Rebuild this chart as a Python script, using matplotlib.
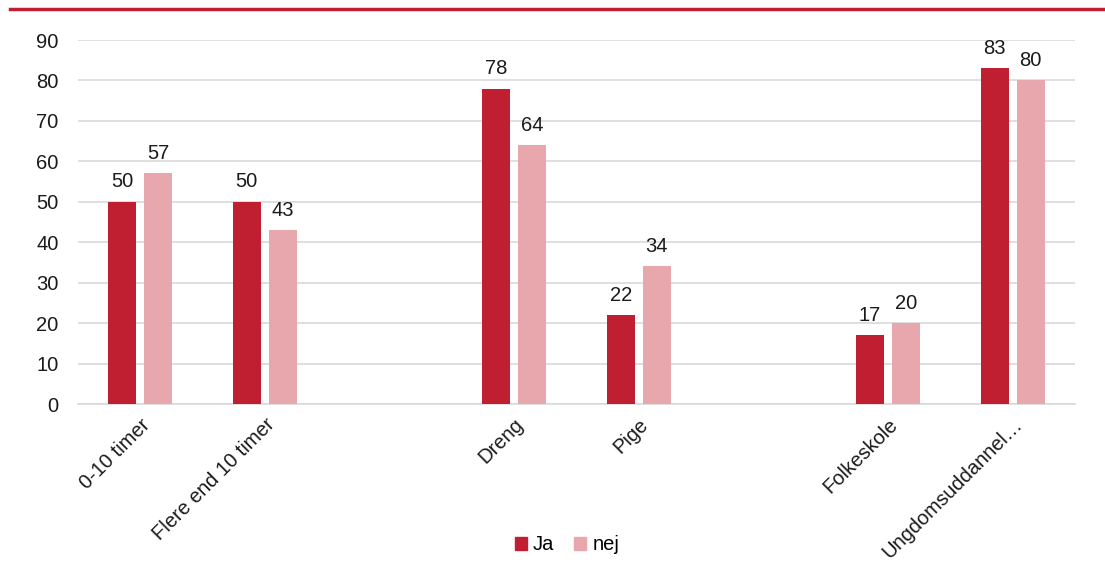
import matplotlib
matplotlib.use("Agg")
import matplotlib.pyplot as plt
from matplotlib.lines import Line2D
import numpy as np

plt.rcParams['font.family'] = ['Liberation Sans', 'DejaVu Sans']

categories = ["0-10 timer", "Flere end 10 timer", "", "Dreng", "Pige", "", "Folkeskole", "Ungdomsuddannel…"]
ja = [50, 50, None, 78, 22, None, 17, 83]
nej = [57, 43, None, 64, 34, None, 20, 80]
series_names = ["Ja", "nej"]
yticks = [0, 10, 20, 30, 40, 50, 60, 70, 80, 90]

c_ja = "#C01F32"
c_nej = "#E8A6AD"
fs = 14.5

fig = plt.figure(figsize=(11.05, 5.76), dpi=100)
ax = fig.add_axes([78/1105, 1-404/576, (1075-78)/1105, (404-40)/576])

x = np.arange(len(categories))
w = 0.225
off = 0.145
for i in x:
    if ja[i] is not None:
        ax.bar(i - off, ja[i], width=w, color=c_ja, zorder=3)
        ax.text(i - off, ja[i] + 2.6, str(ja[i]), ha='center', va='bottom', fontsize=fs, color='#1a1a1a')
    if nej[i] is not None:
        ax.bar(i + off, nej[i], width=w, color=c_nej, zorder=3)
        ax.text(i + off, nej[i] + 2.6, str(nej[i]), ha='center', va='bottom', fontsize=fs, color='#1a1a1a')

ax.set_xlim(-0.5, len(categories) - 0.5)
ax.set_ylim(0, 90)
ax.set_yticks(yticks)
ax.set_yticklabels([str(t) for t in yticks], fontsize=fs, color='#1a1a1a')
ax.yaxis.grid(True, color='#D9D9D9', linewidth=1.2, zorder=0)
ax.set_axisbelow(True)
ax.set_xticks(x)
ax.set_xticklabels(categories, rotation=45, ha='right', rotation_mode='anchor', fontsize=fs, color='#1a1a1a')
ax.tick_params(axis='y', length=0, pad=14)
ax.tick_params(axis='x', length=0, pad=8)
for s in ['top', 'right', 'left']:
    ax.spines[s].set_visible(False)
ax.spines['bottom'].set_color('#D9D9D9')
ax.spines['bottom'].set_linewidth(1.2)

handles = [plt.Rectangle((0, 0), 1, 1, color=c_ja), plt.Rectangle((0, 0), 1, 1, color=c_nej)]
fig.legend(handles, series_names, loc='center', bbox_to_anchor=(567/1105, 1-545/576), ncol=2,
           frameon=False, fontsize=fs, handlelength=0.6, handleheight=0.6, handletextpad=0.3, columnspacing=1.0)

# top red rule
fig.add_artist(Line2D([10/1105, 1.0], [1-8.5/576, 1-8.5/576], color=c_ja, linewidth=2.5, transform=fig.transFigure))

fig.savefig("out.png", dpi=100)
